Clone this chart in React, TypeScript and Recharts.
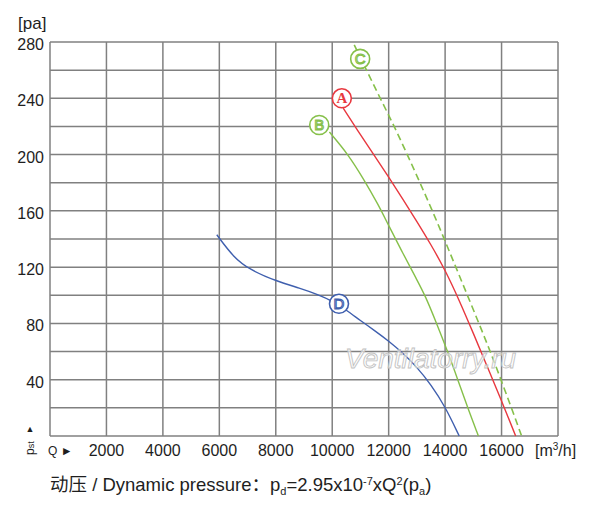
import { CartesianGrid, ComposedChart, Line, Scatter, XAxis, YAxis } from 'recharts'

// Fan curve: static pressure [Pa] vs air flow Q [m3/h]

const xTicks = [0, 2000, 4000, 6000, 8000, 10000, 12000, 14000, 16000, 18000]
const yTicks = [0, 20, 40, 60, 80, 100, 120, 140, 160, 180, 200, 220, 240, 260, 280]

const curveA = [
  { q: 10390, p: 233 }, { q: 11000, p: 214 }, { q: 11500, p: 199 }, { q: 12000, p: 184 },
  { q: 12500, p: 168.5 }, { q: 13000, p: 152.5 }, { q: 13500, p: 136 }, { q: 14000, p: 118 },
  { q: 14500, p: 96.5 }, { q: 15000, p: 73 }, { q: 15500, p: 49 }, { q: 16000, p: 25 },
  { q: 16500, p: 0 },
]

const curveB = [
  { q: 9900, p: 216 }, { q: 10570, p: 200 }, { q: 11100, p: 183 }, { q: 11630, p: 164.5 },
  { q: 12000, p: 149.5 }, { q: 12500, p: 130 }, { q: 13000, p: 111 }, { q: 13290, p: 100 },
  { q: 13700, p: 80 }, { q: 14090, p: 60 }, { q: 14450, p: 40 }, { q: 14800, p: 20 },
  { q: 15180, p: 0 },
]

const curveC = [
  { q: 10780, p: 278 }, { q: 11190, p: 261 }, { q: 11700, p: 240 }, { q: 12200, p: 220 },
  { q: 12660, p: 200 }, { q: 13110, p: 180 }, { q: 13550, p: 160 }, { q: 13970, p: 140 },
  { q: 14380, p: 120 }, { q: 14790, p: 100 }, { q: 15200, p: 80 }, { q: 15600, p: 60 },
  { q: 15980, p: 40 }, { q: 16350, p: 20 }, { q: 16710, p: 0 },
]

const curveD = [
  { q: 5910, p: 143 }, { q: 6500, p: 127 }, { q: 7090, p: 118 }, { q: 8030, p: 110 },
  { q: 8860, p: 105 }, { q: 9500, p: 100.5 }, { q: 10000, p: 96 }, { q: 10500, p: 89.5 },
  { q: 11000, p: 82 }, { q: 11500, p: 75 }, { q: 12000, p: 67.5 }, { q: 12500, p: 59 },
  { q: 13000, p: 49 }, { q: 13500, p: 36.5 }, { q: 14000, p: 21 }, { q: 14500, p: 0 },
]

// circled letters that name each curve
const curveLabels = [
  { q: 10340, p: 240, name: 'A' },
  { q: 9540, p: 221, name: 'B' },
  { q: 10990, p: 268, name: 'C' },
  { q: 10240, p: 94, name: 'D' },
]

const RED = '#e8383f'
const GREEN = '#86c04a'
const BLUE = '#3f5fae'
const labelColor: Record<string, string> = { A: RED, B: GREEN, C: GREEN, D: BLUE }

const FONT = '"Liberation Sans", Arial, "Noto Sans CJK SC", sans-serif'
const TEXT = '#1e1e1e'

const renderXTick = (props: any) => {
  const { x, y, payload } = props
  const v = payload.value
  if (v === 0 || v === 18000) return <g key={`xt-${v}`} />
  return (
    <text key={`xt-${v}`} x={x} y={y + 20} textAnchor="middle" fontSize={16} fontFamily={FONT} fill={TEXT}>
      {v}
    </text>
  )
}

const renderYTick = (props: any) => {
  const { x, y, payload } = props
  const v = payload.value
  if (v === 0 || v % 40 !== 0) return <g key={`yt-${v}`} />
  return (
    <text key={`yt-${v}`} x={x} y={y + 8} textAnchor="end" fontSize={16} fontFamily={FONT} fill={TEXT}>
      {v}
    </text>
  )
}

const CircleLabel = ({ cx, cy, payload }: any) => {
  const c = labelColor[payload.name]
  const serif = payload.name === 'A'
  return (
    <g>
      <circle cx={cx} cy={cy} r={9.5} fill="#fff" stroke={c} strokeWidth={1.6} />
      <text
        x={cx}
        y={cy + 5}
        textAnchor="middle"
        fontSize={15}
        fontWeight={serif ? 'bold' : 'normal'}
        fontFamily={serif ? '"Liberation Serif", serif' : FONT}
        fill={serif ? c : '#fff'}
        stroke={serif ? 'none' : c}
        strokeWidth={1.1}
      >
        {payload.name}
      </text>
    </g>
  )
}

export default function App() {
  return (
    <div style={{ position: 'absolute', left: 0, top: 0, width: 600, height: 520, background: '#fff' }}>
      <ComposedChart width={600} height={520} margin={{ top: 42, right: 42, bottom: 0, left: 0 }}>
        <CartesianGrid stroke="#808080" strokeWidth={1.5} />
        <XAxis
          type="number"
          dataKey="q"
          domain={[0, 18000]}
          ticks={xTicks}
          height={84}
          axisLine={false}
          tickLine={false}
          tickSize={0}
          tickMargin={0}
          tick={renderXTick}
          interval={0}
        />
        <YAxis
          type="number"
          dataKey="p"
          domain={[0, 280]}
          ticks={yTicks}
          width={50}
          axisLine={false}
          tickLine={false}
          tickSize={0}
          tickMargin={6}
          tick={renderYTick}
          interval={0}
        />
        <Line data={curveD} dataKey="p" type="basis" stroke={BLUE} strokeWidth={1.4} dot={false} isAnimationActive={false} />
        <Line data={curveB} dataKey="p" type="basis" stroke={GREEN} strokeWidth={1.4} dot={false} isAnimationActive={false} />
        <Line data={curveA} dataKey="p" type="basis" stroke={RED} strokeWidth={1.4} dot={false} isAnimationActive={false} />
        <Line
          data={curveC}
          dataKey="p"
          type="basis"
          stroke={GREEN}
          strokeWidth={1.6}
          strokeDasharray="7 4"
          dot={false}
          isAnimationActive={false}
        />
        <Scatter data={curveLabels} dataKey="p" shape={<CircleLabel />} isAnimationActive={false} />
      </ComposedChart>

      <svg
        width={600}
        height={520}
        style={{ position: 'absolute', left: 0, top: 0, pointerEvents: 'none' }}
        fontFamily={FONT}
        fill={TEXT}
      >
        <text x={18} y={29} fontSize={17}>[pa]</text>
        <text x={535} y={456} fontSize={16}>
          [m<tspan dy={-6} fontSize={10}>3</tspan>
          <tspan dy={6}>/h]</tspan>
        </text>
        <text x={48} y={455} fontSize={12}>Q ►</text>
        <text x={30} y={432} fontSize={9} textAnchor="middle">▲</text>
        <text x={34} y={455} fontSize={12} transform="rotate(-90 34 455)">
          p<tspan fontSize={9}>st</tspan>
        </text>
        <text
          x={345}
          y={368}
          fontSize={28}
          fontStyle="italic"
          fill="#fff"
          fillOpacity={0.6}
          stroke="#c2c2c2"
          strokeWidth={0.9}
        >
          Ventilatorry.ru
        </text>
        <text x={50} y={491} fontSize={18.5}>
          动压 / Dynamic pressure：p<tspan dy={4} fontSize={11}>d</tspan>
          <tspan dy={-4}>=2.95x10</tspan>
          <tspan dy={-6} fontSize={11}>-7</tspan>
          <tspan dy={6}>xQ</tspan>
          <tspan dy={-6} fontSize={11}>2</tspan>
          <tspan dy={6}>(p</tspan>
          <tspan dy={4} fontSize={11}>a</tspan>
          <tspan dy={-4}>)</tspan>
        </text>
      </svg>
    </div>
  )
}
